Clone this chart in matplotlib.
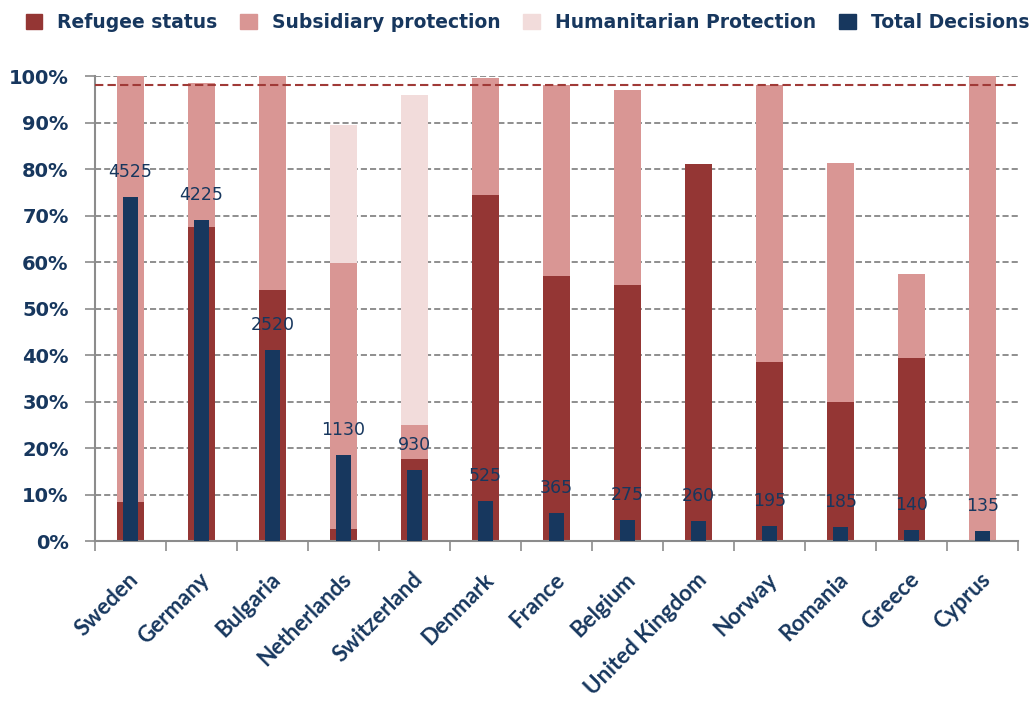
import matplotlib.pyplot as plt
from matplotlib.patches import Patch
from matplotlib.ticker import PercentFormatter, FixedLocator
from matplotlib.transforms import ScaledTranslation
import numpy as np

countries = ['Sweden', 'Germany', 'Bulgaria', 'Netherlands', 'Switzerland', 'Denmark',
             'France', 'Belgium', 'United Kingdom', 'Norway', 'Romania', 'Greece', 'Cyprus']
refugee      = [8.5, 67.5, 54.0, 2.5, 17.7, 74.5, 57.0, 55.0, 81.0, 38.5, 29.8, 39.3, 0.0]
subsidiary   = [91.5, 31.0, 46.0, 57.2, 7.3, 25.1, 41.0, 42.0, 0.0, 59.5, 51.5, 18.1, 100.0]
humanitarian = [0.0, 0.0, 0.0, 29.8, 71.0, 0.0, 0.0, 0.0, 0.0, 0.0, 0.0, 0.0, 0.0]
total_decisions = [4525, 4225, 2520, 1130, 930, 525, 365, 275, 260, 195, 185, 140, 135]
reference_level = 98.0

# colours
c_ref = '#943634'
c_sub = '#D99694'
c_hum = '#F2DCDB'
c_tot = '#17375E'
c_txt = '#17375E'

fig = plt.figure(figsize=(10.34, 7.02), dpi=100)
ax = fig.add_axes([0.0919, 0.2293, 0.8926, 0.6624])

x = np.arange(len(countries))
w = 0.39
ref = np.array(refugee)
sub = np.array(subsidiary)
hum = np.array(humanitarian)
ax.bar(x, ref, w, color=c_ref, label='Refugee status', zorder=2)
ax.bar(x, sub, w, bottom=ref, color=c_sub, label='Subsidiary protection', zorder=2)
ax.bar(x, hum, w, bottom=ref + sub, color=c_hum, label='Humanitarian Protection', zorder=2)
ax.axhline(reference_level, color='#A03A37', linestyle=(0, (4, 2)), linewidth=1.5, zorder=4)

ax.set_xlim(-0.5, len(countries) - 0.5)
ax.set_ylim(0, 100)
ax.set_yticks(np.arange(0, 101, 10))
ax.yaxis.set_major_formatter(PercentFormatter(decimals=0))
ax.grid(axis='y', color='#707070', linestyle=(0, (4, 2)), linewidth=1.1)
ax.set_axisbelow(True)

for s in ['top', 'right']:
    ax.spines[s].set_visible(False)
for s in ['left', 'bottom']:
    ax.spines[s].set_color('#8C8C8C')
    ax.spines[s].set_linewidth(1.5)

ax.tick_params(axis='y', length=7, width=1.2, color='#8C8C8C', pad=12,
               labelsize=14, labelcolor=c_txt)
for lab in ax.get_yticklabels():
    lab.set_fontweight('bold')

# category ticks between bars, labels centred under bars
ax.set_xticks(x)
ax.xaxis.set_minor_locator(FixedLocator(np.arange(-0.5, len(countries), 1.0)))
ax.tick_params(axis='x', which='major', length=0, pad=20)
ax.tick_params(axis='x', which='minor', length=7, width=1.2, color='#8C8C8C')
ax.set_xticklabels(countries, rotation=45, ha='right', rotation_mode='anchor',
                   fontsize=16, fontweight='bold', color=c_txt, family='Lato')
shift = ScaledTranslation(-2 / 72, 0, fig.dpi_scale_trans)
for lab in ax.get_xticklabels():
    lab.set_transform(lab.get_transform() + shift)

# total decisions on a hidden secondary axis
ax2 = ax.twinx()
ax2.set_ylim(0, 6120)
ax2.bar(x, total_decisions, 0.2, color=c_tot, label='Total Decisions', zorder=3)
for xi, v in zip(x, total_decisions):
    ax2.annotate(str(v), (xi, v), xytext=(0, 18), textcoords='offset points',
                 ha='center', va='center', fontsize=12.5, color=c_txt)
ax2.axis('off')

handles = [Patch(color=c_ref), Patch(color=c_sub), Patch(color=c_hum), Patch(color=c_tot)]
labels = ['Refugee status', 'Subsidiary protection', 'Humanitarian Protection', 'Total Decisions']
fig.legend(handles, labels, loc='center', bbox_to_anchor=(0.51, 0.968), ncol=4, frameon=False,
           handlelength=0.9, handleheight=0.9, handletextpad=0.8, columnspacing=1.2,
           prop={'weight': 'bold', 'size': 13.5}, labelcolor=c_txt)

fig.savefig('out.png', dpi=100)
